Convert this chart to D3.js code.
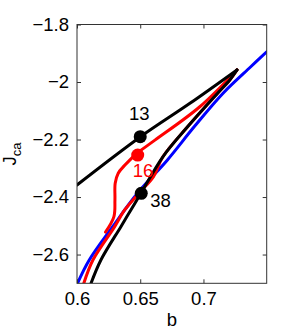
<!DOCTYPE html>
<html>
<head>
<meta charset="utf-8">
<script src="https://cdn.jsdelivr.net/npm/d3@7"></script>
<style>
  body { margin: 0; background: #fff; }
  text { font-family: "Liberation Sans", Arial, sans-serif; }
</style>
</head>
<body>
<div id="chart"></div>
<script>
// branches, as (b, Jca)
const tip = [0.7265, -1.958];
const blackUpper = [[0.6, -2.358], [0.65, -2.191], [0.689, -2.075], tip];
const blackLower = [
  tip, [0.7208, -1.993], [0.7112, -2.039], [0.6876, -2.155], [0.6679, -2.26],
  [0.6505, -2.387], [0.6426, -2.445], [0.6347, -2.503], [0.6189, -2.619], [0.6111, -2.7]
];
const redHook = [
  [0.6225, -2.522], [0.6292, -2.468], [0.630, -2.41], [0.6302, -2.352],
  [0.6326, -2.317], [0.6379, -2.289], [0.6471, -2.248]
];
const redUpper = [[0.6471, -2.248], [0.6616, -2.202], [0.6971, -2.086], tip];
const redLower = [
  tip, [0.7208, -1.993], [0.7112, -2.039], [0.6876, -2.155], [0.6679, -2.26],
  [0.6605, -2.329], [0.6489, -2.387], [0.6377, -2.445], [0.6298, -2.503],
  [0.6126, -2.619], [0.6054, -2.7]
];
const blueCurve = [
  [0.6004, -2.7], [0.6097, -2.619], [0.6282, -2.503], [0.6478, -2.387],
  [0.6715, -2.271], [0.6928, -2.155], [0.7155, -2.039], [0.7374, -1.947], [0.75, -1.895]
];
const markers = [
  { b: 0.65, j: -2.19, label: '13', color: 'black' },
  { b: 0.648, j: -2.254, label: '16', color: 'red' },
  { b: 0.6508, j: -2.387, label: '38', color: 'black' }
];
const xTicks = [0.6, 0.65, 0.7];
const yTicks = [-1.8, -2, -2.2, -2.4, -2.6];

const W = 295, H = 330;
const m = { left: 77, top: 24.5, right: 28.3, bottom: 46.7 };
const w = W - m.left - m.right, h = H - m.top - m.bottom;
const fs = 18.5;

const svg = d3.select('#chart').append('svg').attr('width', W).attr('height', H);
const g = svg.append('g').attr('transform', `translate(${m.left},${m.top})`);

const x = d3.scaleLinear().domain([0.6, 0.75]).range([0, w]);
const y = d3.scaleLinear().domain([-2.7, -1.8]).range([h, 0]);
const minus = (d) => String(d).replace('-', '\u2212');

svg.append('defs').append('clipPath').attr('id', 'clip')
  .append('rect').attr('width', w).attr('height', h);

const smooth = d3.line().x((d) => x(d[0])).y((d) => y(d[1]))
  .curve(d3.curveCatmullRom.alpha(0.5));
const plot = g.append('g').attr('clip-path', 'url(#clip)');

const branches = [
  [blueCurve, 'blue'], [redHook, 'red'], [redUpper, 'red'], [redLower, 'red'],
  [blackUpper, 'black'], [blackLower, 'black']
];
branches.forEach(([data, c]) => {
  plot.append('path').datum(data).attr('d', smooth)
    .attr('fill', 'none').attr('stroke', c).attr('stroke-width', 3)
    .attr('stroke-linejoin', 'round').attr('stroke-linecap', 'round');
});

g.selectAll('circle.mk').data(markers).enter().append('circle')
  .attr('cx', (d) => x(d.b)).attr('cy', (d) => y(d.j)).attr('r', 6.5)
  .attr('fill', (d) => d.color);

// point labels
const lab = [[-1, -16.5, 'middle'], [-5, 22, 'start'], [9, 14, 'start']];
g.selectAll('text.mk').data(markers).enter().append('text')
  .attr('x', (d, i) => x(d.b) + lab[i][0]).attr('y', (d, i) => y(d.j) + lab[i][1])
  .attr('text-anchor', (d, i) => lab[i][2])
  .attr('font-size', fs).attr('fill', (d) => d.color).text((d) => d.label);

// axes
const axisStyle = (sel) => {
  sel.select('.domain').remove();
  sel.selectAll('line').attr('stroke', '#333');
  sel.selectAll('text').attr('font-size', fs).attr('fill', '#000')
    .attr('font-family', '"Liberation Sans", Arial, sans-serif');
};
g.append('g').attr('transform', `translate(0,${h})`)
  .call(d3.axisBottom(x).tickValues(xTicks).tickSize(-4).tickPadding(9).tickFormat(minus))
  .call(axisStyle);
g.append('g')
  .call(d3.axisTop(x).tickValues(xTicks).tickSize(-4).tickFormat(''))
  .call(axisStyle);
g.append('g')
  .call(d3.axisLeft(y).tickValues(yTicks).tickSize(-4).tickPadding(8).tickFormat(minus))
  .call(axisStyle);
g.append('g').attr('transform', `translate(${w},0)`)
  .call(d3.axisRight(y).tickValues(yTicks).tickSize(-4).tickFormat(''))
  .call(axisStyle);

g.append('rect').attr('width', w).attr('height', h)
  .attr('fill', 'none').attr('stroke', '#333').attr('stroke-width', 1);

svg.append('text').attr('x', m.left + w / 2).attr('y', 326)
  .attr('text-anchor', 'middle').attr('font-size', fs).text('b');

const yl = svg.append('text')
  .attr('transform', `translate(16,${m.top + h / 2}) rotate(-90)`)
  .attr('text-anchor', 'middle').attr('font-size', fs);
yl.append('tspan').text('J');
yl.append('tspan').attr('font-size', 13).attr('dy', 5).text('ca');
</script>
</body>
</html>
